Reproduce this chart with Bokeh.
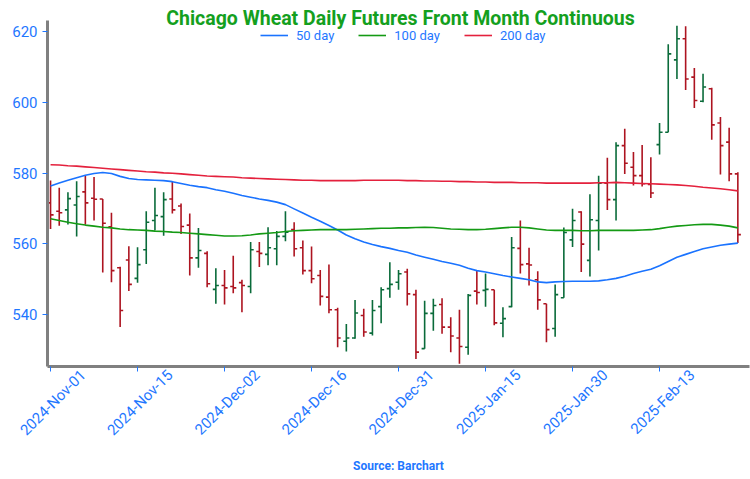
import math
from bokeh.plotting import figure
from bokeh.models import ColumnDataSource, Range1d, FixedTicker, Label
from bokeh.embed import file_html
from bokeh.resources import INLINE

# ---------------- data ----------------
opens = [571.6, 569.2, 569.6, 571.0, 574.7, 572.9, 572.7, 564.8, 553.2, 555.4,
         550.2, 558.3, 566.6, 567.7, 572.7, 570.7, 565.3, 556.0, 557.3, 547.1,
         548.2, 547.9, 549.0, 547.9, 557.8, 557.0, 558.6, 562.1, 564.0, 558.9,
         552.4, 551.0, 544.9, 541.3, 532.4, 533.3, 539.7, 534.7, 542.2, 547.3,
         549.1, 552.0, 545.6, 530.3, 540.3, 542.8, 536.4, 533.3, 530.7, 546.6,
         546.8, 547.0, 537.5, 542.2, 558.7, 554.3, 549.8, 543.0, 536.0, 544.7,
         561.1, 569.0, 555.3, 566.6, 577.2, 572.5, 587.8, 581.7, 579.3, 576.8,
         588.1, 591.6, 612.1, 618.1, 607.2, 600.4, 603.9, 594.2, 588.8, 579.8]
highs = [577.9, 575.9, 574.6, 577.7, 579.2, 578.9, 572.7, 568.8, 553.5, 559.3,
         559.0, 569.2, 575.9, 574.6, 577.6, 571.4, 568.6, 564.5, 557.9, 553.1,
         552.6, 556.6, 549.8, 560.5, 560.5, 564.7, 563.6, 569.2, 566.1, 560.9,
         559.2, 552.6, 554.1, 541.9, 537.3, 544.1, 541.6, 544.1, 547.7, 554.8,
         552.6, 552.9, 547.0, 543.9, 544.4, 544.6, 539.2, 541.3, 545.8, 552.3,
         551.6, 547.0, 542.0, 561.9, 566.6, 558.9, 552.2, 543.0, 548.5, 564.6,
         569.9, 569.2, 574.0, 579.3, 584.4, 588.8, 592.6, 586.0, 588.0, 584.5,
         594.2, 616.5, 621.8, 621.6, 609.8, 608.2, 604.2, 595.9, 592.9, 580.3]
lows = [564.2, 565.1, 565.5, 562.1, 565.4, 566.6, 551.9, 549.1, 536.4, 546.6,
        549.0, 554.3, 563.8, 562.3, 568.6, 562.8, 551.0, 553.2, 547.7, 543.0,
        542.8, 546.0, 540.6, 546.0, 553.4, 553.9, 553.9, 560.7, 556.4, 551.3,
        548.8, 542.5, 540.3, 530.7, 529.5, 533.1, 533.7, 534.0, 537.5, 544.7,
        547.0, 542.5, 527.4, 530.3, 535.4, 534.5, 529.3, 526.0, 528.6, 542.8,
        542.2, 536.9, 533.5, 542.0, 551.6, 548.2, 541.3, 532.1, 533.7, 544.7,
        559.1, 552.0, 550.7, 558.1, 569.6, 566.6, 579.8, 576.5, 576.2, 573.0,
        585.3, 591.6, 606.7, 603.6, 598.5, 600.1, 589.5, 579.6, 577.7, 560.2]
closes = [568.2, 568.8, 572.8, 573.4, 571.6, 572.6, 565.8, 552.4, 541.1, 548.5,
          554.1, 566.1, 568.0, 572.5, 569.6, 564.9, 556.0, 558.1, 548.7, 548.2,
          547.5, 547.5, 548.2, 558.3, 557.3, 558.9, 562.1, 563.3, 558.6, 552.4,
          550.1, 545.1, 541.3, 533.3, 533.3, 540.4, 535.0, 541.1, 547.0, 548.5,
          551.5, 545.8, 529.3, 540.3, 542.5, 536.4, 533.9, 530.9, 545.4, 546.2,
          547.1, 537.6, 538.8, 558.9, 554.1, 554.0, 544.1, 535.7, 545.6, 563.2,
          566.6, 559.9, 566.8, 577.2, 572.5, 587.8, 582.8, 579.3, 577.0, 574.4,
          591.6, 613.8, 618.1, 606.7, 600.6, 604.4, 593.7, 587.8, 579.8, 562.6]
ma50 = [576.4, 577.2, 578.0, 578.7, 579.4, 579.9, 580.2, 579.9, 579.1, 578.5,
        578.2, 578.1, 578.0, 577.9, 577.6, 577.1, 576.6, 576.2, 575.9, 575.3,
        574.9, 574.3, 573.7, 573.2, 572.7, 572.3, 571.8, 571.1, 569.9, 568.7,
        567.5, 566.4, 565.2, 563.9, 562.5, 561.4, 560.5, 559.8, 559.2, 558.7,
        558.1, 557.6, 556.8, 556.2, 555.6, 555.0, 554.5, 553.9, 553.1, 552.4,
        552.0, 551.5, 551.0, 550.6, 550.2, 549.8, 549.2, 549.0, 549.2, 549.3,
        549.4, 549.4, 549.4, 549.5, 549.8, 550.2, 550.8, 551.6, 552.2, 552.8,
        553.8, 555.0, 556.2, 557.0, 557.8, 558.6, 559.1, 559.6, 559.9, 560.2]
ma100 = [567.1, 566.6, 566.1, 565.7, 565.3, 565.0, 564.7, 564.5, 564.2, 564.0,
         563.9, 563.8, 563.6, 563.5, 563.3, 563.2, 563.0, 562.8, 562.6, 562.4,
         562.2, 562.2, 562.3, 562.5, 562.8, 563.0, 563.2, 563.5, 563.7, 563.8,
         563.9, 564.0, 564.0, 564.0, 564.0, 564.1, 564.2, 564.3, 564.4, 564.4,
         564.5, 564.5, 564.6, 564.7, 564.6, 564.4, 564.2, 564.1, 564.0, 564.0,
         564.1, 564.3, 564.5, 564.7, 564.7, 564.5, 564.2, 563.9, 563.8, 563.8,
         563.8, 563.7, 563.7, 563.8, 563.8, 563.8, 563.8, 563.8, 563.9, 564.0,
         564.3, 564.7, 565.0, 565.2, 565.4, 565.5, 565.5, 565.3, 565.0, 564.5]
ma200 = [582.4, 582.3, 582.1, 582.0, 581.8, 581.6, 581.4, 581.2, 581.0, 580.8,
         580.6, 580.4, 580.3, 580.1, 580.0, 579.8, 579.6, 579.4, 579.2, 579.1,
         579.0, 578.9, 578.7, 578.6, 578.5, 578.4, 578.3, 578.2, 578.1, 578.0,
         578.0, 577.9, 577.9, 577.9, 577.9, 577.9, 578.0, 578.0, 578.0, 578.0,
         578.0, 577.9, 577.9, 577.8, 577.8, 577.7, 577.7, 577.6, 577.6, 577.5,
         577.5, 577.4, 577.4, 577.4, 577.3, 577.3, 577.3, 577.2, 577.2, 577.2,
         577.2, 577.2, 577.2, 577.3, 577.3, 577.4, 577.3, 577.2, 577.1, 577.0,
         576.9, 576.8, 576.7, 576.5, 576.3, 576.0, 575.8, 575.6, 575.3, 575.0]
tick_positions = [0, 10, 20, 30, 40, 50, 60, 70]
tick_labels = ["2024-Nov-01", "2024-Nov-15", "2024-Dec-02", "2024-Dec-16",
               "2024-Dec-31", "2025-Jan-15", "2025-Jan-30", "2025-Feb-13"]
y_ticks = [540, 560, 580, 600, 620]

# ---------------- styling ----------------
BLUE_TXT = "#1f77ff"
UP = "#0a6b3a"
DOWN = "#ad1420"
C50 = "#1a73ff"
C100 = "#149a14"
C200 = "#e4213d"
FONT = "Roboto"
LABEL_SHIFT = 3.75   # rotated labels are right-anchored; shift so they centre on the tick

idx = list(range(len(opens)))
colors = [UP if c >= o else DOWN for o, c in zip(opens, closes)]
src = ColumnDataSource(dict(
    x=idx, o=opens, h=highs, l=lows, c=closes, color=colors,
    xl=[i - 0.35 for i in idx], xr=[i + 0.35 for i in idx]))

Y_LO, Y_AXIS_TOP, Y_FRAME_TOP = 525.24, 623.26, 628.92

p = figure(width=750, height=479, output_backend="svg", toolbar_location=None,
           x_range=Range1d(-0.35, 80.34), y_range=Range1d(Y_LO, Y_FRAME_TOP),
           min_border_left=47, min_border_right=1, min_border_top=0,
           min_border_bottom=113)
p.outline_line_color = None
p.xgrid.visible = False
p.ygrid.visible = False
p.background_fill_color = "white"

p.segment(x0="x", y0="l", x1="x", y1="h", color="color", line_width=1.6, source=src)
p.segment(x0="xl", y0="o", x1="x", y1="o", color="color", line_width=1.6, source=src)
p.segment(x0="x", y0="c", x1="xr", y1="c", color="color", line_width=1.6, source=src)

p.line(idx, ma50, color=C50, line_width=1.6, legend_label="50 day")
p.line(idx, ma100, color=C100, line_width=1.6, legend_label="100 day")
p.line(idx, ma200, color=C200, line_width=1.6, legend_label="200 day")

leg = p.legend[0]
leg.location = (213, 321)
leg.orientation = "horizontal"
leg.background_fill_alpha = 0
leg.border_line_alpha = 0
leg.label_text_color = BLUE_TXT
leg.label_text_font = FONT
leg.label_text_font_size = "13px"
leg.glyph_width = 28
leg.glyph_height = 14
leg.label_height = 20
leg.label_standoff = 8
leg.spacing = 24
leg.padding = 0
leg.margin = 0

for ax in (p.xaxis[0], p.yaxis[0]):
    ax.axis_line_color = "#808080"
    ax.axis_line_width = 3
    ax.major_label_text_color = BLUE_TXT
    ax.major_label_text_font = FONT

p.yaxis.bounds = (Y_LO, Y_AXIS_TOP)
p.yaxis.ticker = FixedTicker(ticks=y_ticks)
p.yaxis.major_tick_line_color = BLUE_TXT
p.yaxis.major_tick_out = 5
p.yaxis.major_tick_in = 0
p.yaxis.minor_tick_line_color = None
p.yaxis.major_label_text_font_size = "15px"
p.yaxis.major_label_standoff = 5

label_ticks = [t + LABEL_SHIFT for t in tick_positions]
p.xaxis.ticker = FixedTicker(ticks=label_ticks, minor_ticks=tick_positions)
p.xaxis.major_label_overrides = {lt: lab for lt, lab in zip(label_ticks, tick_labels)}
p.xaxis.major_tick_line_color = None
p.xaxis.major_tick_out = 5
p.xaxis.major_tick_in = 0
p.xaxis.minor_tick_line_color = BLUE_TXT
p.xaxis.minor_tick_out = 5
p.xaxis.minor_tick_in = 0
p.xaxis.major_label_orientation = math.pi / 4
p.xaxis.major_label_text_font_size = "15px"
p.xaxis.major_label_standoff = 1
p.xaxis.axis_label = "Source: Barchart"
p.xaxis.axis_label_text_color = BLUE_TXT
p.xaxis.axis_label_text_font = FONT
p.xaxis.axis_label_text_font_style = "bold"
p.xaxis.axis_label_text_font_size = "12px"
p.xaxis.axis_label_standoff = 10

p.add_layout(Label(x=353, y=348, x_units="screen", y_units="screen",
                   text="Chicago Wheat Daily Futures Front Month Continuous",
                   text_align="center", text_baseline="middle", text_color="#14a01e",
                   text_font=FONT, text_font_style="bold", text_font_size="19.5px"))

open("out.html", "w").write(file_html(p, INLINE))
